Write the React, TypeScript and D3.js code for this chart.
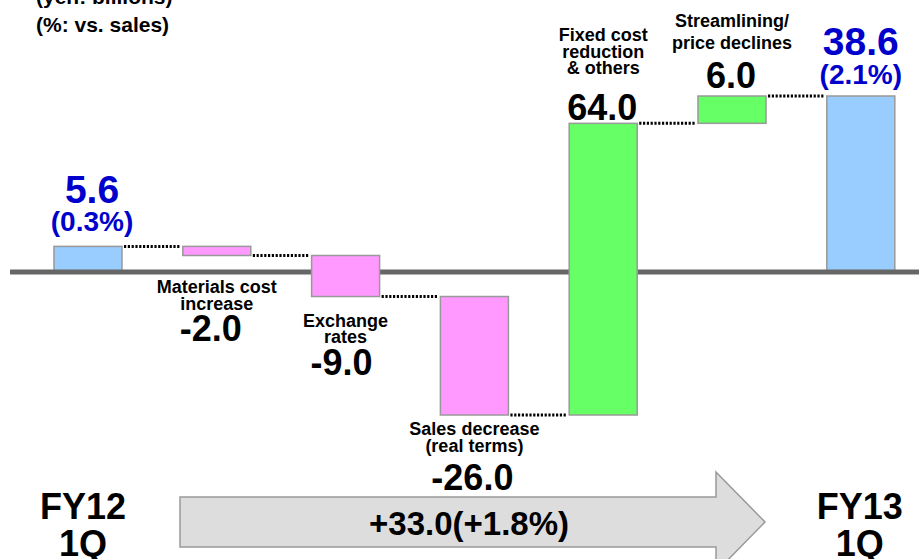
import * as d3 from "d3";

// Operating income bridge, FY12 1Q -> FY13 1Q (yen: billions)
const categories = [
  "FY12 1Q",
  "Materials cost increase",
  "Exchange rates",
  "Sales decrease (real terms)",
  "Fixed cost reduction & others",
  "Streamlining/price declines",
  "FY13 1Q",
];
const values = [5.6, -2.0, -9.0, -26.0, 64.0, 6.0, 38.6];
const kinds = ["total", "delta", "delta", "delta", "delta", "delta", "total"];
const labelLines = [
  [],
  ["Materials cost", "increase"],
  ["Exchange", "rates"],
  ["Sales decrease", "(real terms)"],
  ["Fixed cost", "reduction", "& others"],
  ["Streamlining/", "price declines"],
  [],
];
const shareOfSales = ["(0.3%)", "", "", "", "", "", "(2.1%)"];
const periodLabels = [["FY12", "1Q"], ["FY13", "1Q"]];
const totalChange = "+33.0(+1.8%)";
const unitLines = ["(yen: billions)", "(%: vs. sales)"];

// hand placed label baselines (pixels), like the slide
const labelLayout = [
  { lines: [], value: 203, pct: 231, dx: 4 },
  { lines: [293, 310], value: 341, dx: -6 },
  { lines: [327, 343], value: 375, dx: -4 },
  { lines: [435, 452], value: 490, dx: -2 },
  { lines: [41, 57.5, 74], value: 120, dx: -1 },
  { lines: [27, 49], value: 88, dx: -1 },
  { lines: [], value: 55, pct: 84, dx: 0 },
];

const width = 919;
const height = 559;
const font = "Arial, 'Liberation Sans', sans-serif";

const colors: Record<string, string> = {
  total: "#99CCFF",
  up: "#66FF66",
  down: "#FF99FF",
};

export default function App() {
  // running totals for the waterfall
  let run = 0;
  const bars = values.map((v, i) => {
    if (kinds[i] === "total") {
      run = v;
      return { i, start: 0, end: v, kind: "total" };
    }
    const start = run;
    run += v;
    return { i, start, end: run, kind: v >= 0 ? "up" : "down" };
  });

  const levels = bars.flatMap((b) => [b.start, b.end]);
  const y = d3.scaleLinear().domain([d3.min(levels)!, d3.max(levels)!]).range([415, 96]);
  const x = d3
    .scaleBand<string>()
    .domain(categories)
    .range([23.6, 925.2])
    .paddingInner(0.472)
    .paddingOuter(0.236);

  const bw = x.bandwidth();
  const cx = (i: number) => x(categories[i])! + bw / 2;

  const barRect = (b: (typeof bars)[number]) => (
    <rect
      key={`bar-${b.i}`}
      x={x(categories[b.i])}
      y={y(Math.max(b.start, b.end))}
      width={bw}
      height={Math.abs(y(b.start) - y(b.end))}
      fill={colors[b.kind]}
      stroke="#999"
      strokeWidth={1.5}
    />
  );

  // arrow across the bottom
  const ax0 = 180, ax1 = 716, tip = 765, ay0 = 497, ay1 = 547, head = 25;
  const aMid = (ay0 + ay1) / 2;
  const arrow = d3.line()([
    [ax0, ay0], [ax1, ay0], [ax1, ay0 - head], [tip, aMid],
    [ax1, ay1 + head], [ax1, ay1], [ax0, ay1],
  ]) + "Z";

  return (
    <svg
      width={width}
      height={height}
      style={{ position: "absolute", left: 0, top: 0, background: "white" }}
      fontFamily={font}
      fontWeight="bold"
    >
      {/* units */}
      {unitLines.map((t, k) => (
        <text key={t} x={36} y={4 + k * 28} fontSize={21}>{t}</text>
      ))}

      {/* totals sit under the base line */}
      {bars.filter((b) => b.kind === "total").map(barRect)}

      <line x1={10} x2={width} y1={y(0)} y2={y(0)} stroke="#666" strokeWidth={5} />

      {/* dotted connectors */}
      {bars.slice(0, -1).map((b, k) => (
        <line
          key={`c-${k}`}
          x1={x(categories[k])! + bw + 2}
          x2={x(categories[k + 1])! - 2}
          y1={y(b.end)}
          y2={y(b.end)}
          stroke="#000"
          strokeWidth={3}
          strokeDasharray="2.2,1.6"
        />
      ))}

      {bars.filter((b) => b.kind !== "total").map(barRect)}

      {/* category labels and values */}
      {bars.map((b) => {
        const L = labelLayout[b.i];
        const isTotal = b.kind === "total";
        return (
          <g key={`lab-${b.i}`} textAnchor="middle">
            {labelLines[b.i].map((t, k) => (
              <text key={t} x={cx(b.i)} y={L.lines[k]} fontSize={18}>{t}</text>
            ))}
            <text
              x={cx(b.i) + L.dx}
              y={L.value}
              fontSize={isTotal ? 39 : 36}
              fill={isTotal ? "#0000CC" : "#000"}
            >
              {values[b.i].toFixed(1)}
            </text>
            {isTotal && (
              <text x={cx(b.i) + L.dx} y={L.pct} fontSize={28} fill="#0000CC">
                {shareOfSales[b.i]}
              </text>
            )}
          </g>
        );
      })}

      {/* bottom arrow */}
      <path d={arrow} fill="#DDDDDD" stroke="#999" strokeWidth={1.5} />
      <text x={469} y={535} fontSize={33} textAnchor="middle">{totalChange}</text>

      {/* period labels */}
      {[0, categories.length - 1].map((i, k) => (
        <g key={`p-${i}`} textAnchor="middle">
          <text x={cx(i) - (k === 0 ? 5 : 1)} y={519} fontSize={36}>{periodLabels[k][0]}</text>
          <text x={cx(i) - (k === 0 ? 5 : 1)} y={556} fontSize={36}>{periodLabels[k][1]}</text>
        </g>
      ))}
    </svg>
  );
}
